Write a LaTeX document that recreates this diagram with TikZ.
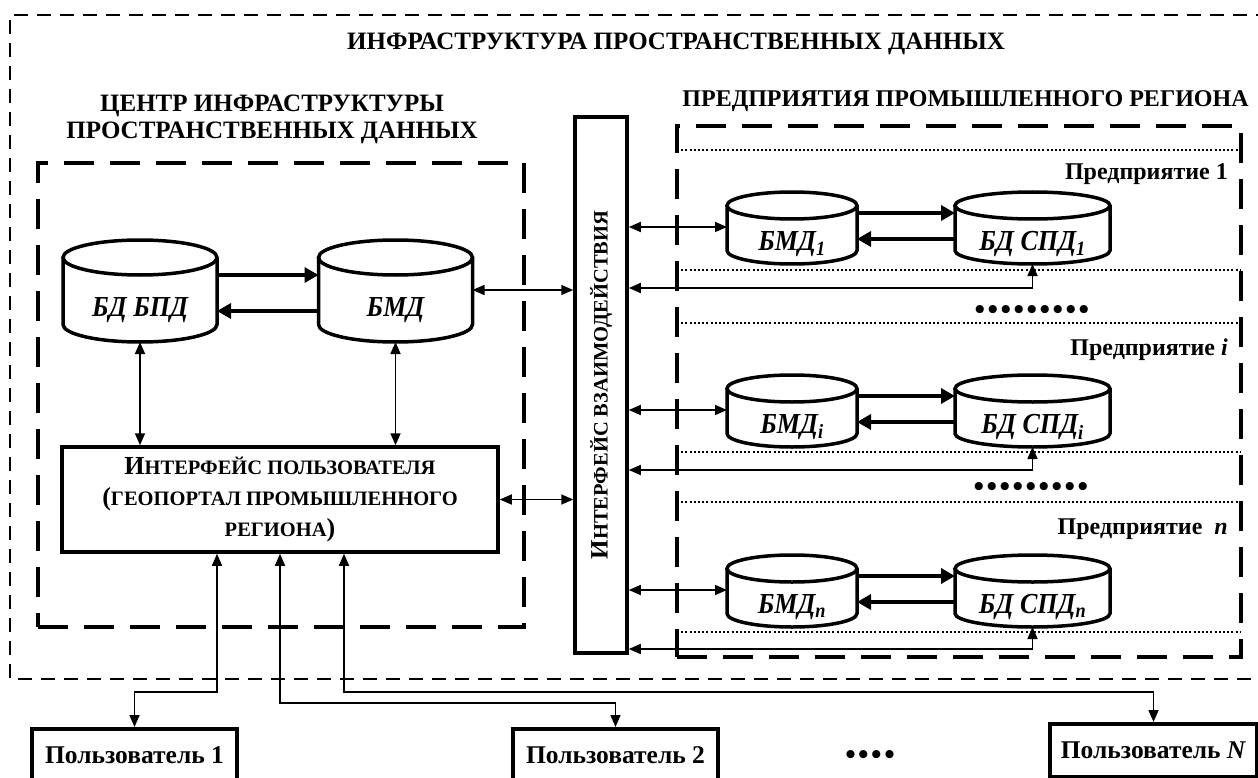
\documentclass[tikz,border=0pt]{standalone}
\usepackage{fontspec}
\setmainfont{Liberation Serif}
% slightly condensed face for the database labels
\newfontfamily\cylfont[FakeStretch=0.9]{Liberation Serif}
\usetikzlibrary{arrows.meta,calc}

% font size helper and small capitals for Cyrillic headings
\newcommand\fs[2]{\fontsize{#1pt}{#2pt}\selectfont}
\newcommand\scs[1]{{\fontsize{20.5pt}{20.5pt}\selectfont #1}}
\newcommand\bulletrow[1]{\foreach \k in {1,...,#1}{\ifnum\k>1 \kern2.5pt\fi •}}

% database cylinder: name, cx, cy, x radius, half height, y radius, text, text offset
\newcommand\dbcyl[8]{%
  \node[cylbox, minimum width={2*#4pt}, minimum height={2*#5pt}] (#1) at (#2,#3) {};
  \draw[cylline] ([yshift=-#6pt]#1.north west) -- ([yshift=#6pt]#1.south west)
    arc[start angle=180, end angle=360, x radius=#4pt, y radius=#6pt]
    -- ([yshift=-#6pt]#1.north east);
  \draw[cylline] ([yshift=-#6pt]#1.north) ellipse [x radius=#4pt, y radius=#6pt];
  \node[cyltext] (#1-t) at ([yshift=-#8pt]#1.center) {#7};
}

\begin{document}
\begin{tikzpicture}[x=1pt,y=-1pt,
  heading/.style={font=\bfseries\fs{25}{27}, align=center, inner sep=0},
  cyltext/.style={font=\cylfont\bfseries\itshape\fs{29}{29}, inner sep=0},
  entlabel/.style={font=\bfseries\fs{24}{24}, anchor=east, inner sep=0},
  dotrow/.style={font=\bfseries\fs{30}{30}, inner sep=0},
  userbox/.style={draw, line width=4pt, minimum width=205pt, minimum height=52pt,
    inner sep=0, font=\bfseries\fs{25.5}{25.5}},
  panel/.style={draw, line width=3.5pt, inner sep=0},
  groupbox/.style={draw, line width=4pt, dash pattern=on 30pt off 16pt, inner sep=0},
  cylbox/.style={inner sep=0, outer sep=0},
  cylline/.style={line width=3.5pt},
  biarrow/.style={line width=1.6pt,
    {Triangle[length=12pt,width=10pt]}-{Triangle[length=12pt,width=10pt]}},
  fatarrow/.style={line width=4pt, -{Triangle[length=14pt,width=15pt]}},
  sepline/.style={line width=1.4pt, dash pattern=on 2pt off 2.2pt},
  outerdash/.style={line width=1.8pt, dash pattern=on 14pt off 9pt},
]
\useasboundingbox (0,0) rectangle (1258,778);

% outer frame of the whole infrastructure
\draw[outerdash] (1270,15) -- (10,15) -- (10,679) -- (1270,679);

% headings
\node[heading] (title) at (676,44) {ИНФРАСТРУКТУРА ПРОСТРАНСТВЕННЫХ ДАННЫХ};
\node[heading] (chead) at (272,119) {ЦЕНТР ИНФРАСТРУКТУРЫ\\ПРОСТРАНСТВЕННЫХ ДАННЫХ};
\node[heading, font=\bfseries\fs{24}{27}] (ehead) at (965.5,101) {ПРЕДПРИЯТИЯ ПРОМЫШЛЕННОГО РЕГИОНА};

% group frames
\node[groupbox, minimum width=486pt, minimum height=464pt] (cbox) at (281,395) {};
\node[groupbox, minimum width=564pt, minimum height=531pt] (ebox) at (959,391.5) {};

% interaction interface bar
\node[panel, minimum width=52pt, minimum height=536pt] (ibar) at (601,385) {};
\node[rotate=90, font=\bfseries\fs{25}{25}, inner sep=0] (ibar-t) at (ibar.center)
  {И\scs{НТЕРФЕЙС ВЗАИМОДЕЙСТВИЯ}};

% user interface
\node[panel, minimum width=436pt, minimum height=105pt, align=center,
  font=\bfseries\fs{26}{31}] (ui) at (280,499.5)
  {И\scs{НТЕРФЕЙС ПОЛЬЗОВАТЕЛЯ}\\(\scs{ГЕОПОРТАЛ ПРОМЫШЛЕННОГО}\\\scs{РЕГИОНА})};

% centre databases
\dbcyl{bdbpd}{140}{291}{77}{51}{17.5}{БД БПД}{19}
\dbcyl{bmd}{395.5}{291}{77}{51}{17.5}{БМД}{19}

\draw[fatarrow] ([yshift=16pt]bdbpd.east) -- ([yshift=16pt]bmd.west);
\draw[fatarrow] ([yshift=-20pt]bmd.west) -- ([yshift=-20pt]bdbpd.east);
\draw[biarrow] ([yshift=1pt]bmd.east) -- ([yshift=1pt]bmd.east -| ibar.west);
\draw[biarrow] (bdbpd.south) -- (bdbpd.south |- ui.north);
\draw[biarrow] (bmd.south) -- (bmd.south |- ui.north);
\draw[biarrow] (ui.east) -- (ui.east -| ibar.west);

% separators between enterprises
\foreach \yy in {150,270,323,452,502,632}
  \draw[sepline] (677,\yy) -- (1241,\yy);

% enterprise labels and ellipses
\node[entlabel] (ent1) at (1228,174) {Предприятие 1};
\node[entlabel] (enti) at (1228,350) {Предприятие \textit{i}};
\node[entlabel] (entn) at (1228,529) {Предприятие\ \ \textit{n}};
\node[dotrow] (dots1) at (1032,313) {\bulletrow{9}};
\node[dotrow] (dots2) at (1031,490) {\bulletrow{9}};

% enterprise databases
\dbcyl{bmd1}{792}{228}{65}{36}{13.5}{БМД\textsubscript{1}}{16}
\dbcyl{spd1}{1032.5}{228}{77.5}{36}{13.5}{БД СПД\textsubscript{1}}{16}
\dbcyl{bmdi}{792}{411}{65}{36}{13.5}{БМД\textsubscript{\textit{i}}}{16}
\dbcyl{spdi}{1032.5}{411}{77.5}{36}{13.5}{БД СПД\textsubscript{\textit{i}}}{16}
\dbcyl{bmdn}{792}{591}{65}{36}{13.5}{БМД\textsubscript{\textit{n}}}{16}
\dbcyl{spdn}{1032.5}{591}{77.5}{36}{13.5}{БД СПД\textsubscript{\textit{n}}}{16}

\coordinate (r1) at (0,288);
\coordinate (ri) at (0,470);
\coordinate (rn) at (0,649);

\foreach \e/\s/\r in {bmd1/spd1/r1, bmdi/spdi/ri, bmdn/spdn/rn}{
  \draw[fatarrow] ([yshift=15pt]\e.east) -- ([yshift=15pt]\s.west);
  \draw[fatarrow] ([yshift=-11pt]\s.west) -- ([yshift=-11pt]\e.east);
  \draw[biarrow] ([yshift=1pt]\e.west) -- ([yshift=1pt]\e.west -| ibar.east);
  \draw[biarrow] (\s.south) |- (ibar.east |- \r);
}

% users
\node[userbox] (user1) at (134.5,755) {Пользователь 1};
\node[userbox] (user2) at (615.5,755) {Пользователь 2};
\node[userbox, minimum width=207pt, minimum height=53pt] (userN) at (1153.5,750.5)
  {Пользователь \textit{N}};
\node[dotrow] (udots) at (870,757) {\bulletrow{4}};

\coordinate (j1) at (217,692);
\coordinate (j2) at (280,703);
\coordinate (j3) at (344,692);
\draw[biarrow] (j1 |- ui.south) -- (j1) -| (user1.north);
\draw[biarrow] (j2 |- ui.south) -- (j2) -| (user2.north);
\draw[biarrow] (j3 |- ui.south) -- (j3) -| (userN.north);
\end{tikzpicture}
\end{document}
